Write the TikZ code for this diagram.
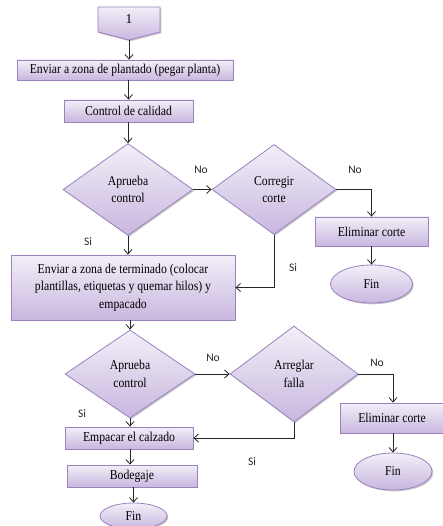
\documentclass[tikz,border=0pt]{standalone}
\usepackage{fontspec}
\setmainfont{Liberation Serif}
\newfontfamily\boxfont{Liberation Serif}[FakeStretch=0.87]
\newfontfamily\labelfont{Carlito}
\usetikzlibrary{shapes.geometric,shadows,arrows.meta,calc}

\definecolor{boxedge}{HTML}{9A82BF}
\definecolor{boxtop}{HTML}{F3EFF8}
\definecolor{boxbottom}{HTML}{C8B7DF}
\definecolor{linecol}{HTML}{262626}

\tikzset{
  flowfill/.style={draw=boxedge, line width=0.8pt,
    top color=boxtop, bottom color=boxbottom,
    drop shadow={shadow xshift=1.3pt, shadow yshift=-1.3pt, opacity=0.3, fill=black!70}},
  boxtext/.style={font=\boxfont\fontsize{13.5}{17.5}\selectfont, text=black},
  procbox/.style={flowfill, boxtext, rectangle, inner sep=0pt, align=center},
  decision/.style={flowfill, boxtext, diamond, inner sep=0pt, align=center},
  terminal/.style={flowfill, boxtext, ellipse, inner sep=0pt},
  flow/.style={draw=linecol, line width=0.8pt, -{Straight Barb[length=4.5pt,width=8pt]}},
  answer/.style={font=\labelfont\fontsize{11.5}{13}\selectfont, text=black!85, inner sep=0pt},
}

\begin{document}
\begin{tikzpicture}[x=1pt, y=-1pt]
  \useasboundingbox (0,0) rectangle (443,526);

  % off-page connector at the top
  \path[flowfill] (98,7) -- (160,7) -- (160,32) -- (129,40) -- (98,32) -- cycle;
  \node[font=\fontsize{13.5}{17.5}\selectfont, inner sep=0pt] (c1) at (129,19) {1};
  \coordinate (c1tip) at (129,40);

  % main column
  \node[procbox, minimum width=216pt, minimum height=20pt] (b1) at (125,70)
    {Enviar a zona de plantado (pegar planta)};
  \node[procbox, minimum width=129pt, minimum height=22pt] (b2) at (128.5,111)
    {Control de calidad};
  \node[decision, minimum width=130pt, minimum height=92pt] (d1) at (128,189.5)
    {Aprueba\\control};
  \node[decision, minimum width=124pt, minimum height=90pt] (d2) at (274,189.5)
    {Corregir\\corte};
  \node[procbox, minimum width=113pt, minimum height=29pt] (e1) at (371.5,231.5)
    {Eliminar corte};
  \node[terminal, minimum width=82pt, minimum height=38pt] (f1) at (371.5,284)
    {Fin};
  \node[procbox, minimum width=224pt, minimum height=65pt] (b3) at (123,287.5)
    {Enviar a zona de terminado (colocar\\plantillas, etiquetas y quemar hilos) y\\empacado};
  \node[decision, minimum width=130pt, minimum height=88pt] (d3) at (130,374)
    {Aprueba\\control};
  \node[decision, minimum width=128pt, minimum height=96pt] (d4) at (294,374)
    {Arreglar\\falla};
  \node[procbox, minimum width=103pt, minimum height=30pt] (e2) at (392,418)
    {Eliminar corte};
  \node[terminal, minimum width=78pt, minimum height=37pt] (f2) at (393,471.5)
    {Fin};
  \node[procbox, minimum width=128pt, minimum height=22pt] (b4) at (129,438)
    {Empacar el calzado};
  \node[procbox, minimum width=130pt, minimum height=22pt] (b5) at (132,476)
    {Bodegaje};
  \node[terminal, minimum width=67pt, minimum height=26pt] (f3) at (133.5,516)
    {Fin};

  % connectors
  \draw[flow] (c1tip) -- (c1tip |- b1.north);
  \draw[flow] (b2.north |- b1.south) -- (b2.north);
  \draw[flow] (d1.north |- b2.south) -- (d1.north);
  \draw[flow] (d1.east) -- (d2.west);
  \draw[flow] (d2.east) -| (e1.north);
  \draw[flow] (e1.south) -- (f1.north);
  \draw[flow] (d1.south) -- (d1.south |- b3.north);
  \draw[flow] (d2.south) |- (b3.east);
  \draw[flow] (d3.north |- b3.south) -- (d3.north);
  \draw[flow] (d3.east) -- (d4.west);
  \draw[flow] (d4.east) -| (e2.north -| f2.north);
  \draw[flow] (e2.south -| f2.north) -- (f2.north);
  \draw[flow] (d3.south) -- (d3.south |- b4.north);
  \draw[flow] (d4.south) |- (b4.east);
  \draw[flow] (b4.south -| d3.south) -- (b5.north -| d3.south);
  \draw[flow] (b5.south -| f3.north) -- (f3.north);

  % branch labels
  \node[answer] (n1) at (201,170) {No};
  \node[answer] (n2) at (355,170) {No};
  \node[answer] (s1) at (88,242) {Si};
  \node[answer] (s2) at (293,268) {Si};
  \node[answer] (n3) at (213,358) {No};
  \node[answer] (n4) at (377,363) {No};
  \node[answer] (s3) at (82,414) {Si};
  \node[answer] (s4) at (252,462) {Si};
\end{tikzpicture}
\end{document}
